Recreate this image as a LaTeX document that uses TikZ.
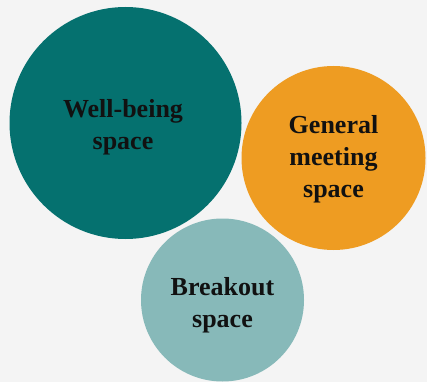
\documentclass[tikz,border=0pt]{standalone}
\usepackage{fontspec}
\setmainfont{Liberation Serif}
\definecolor{pagebg}{HTML}{F4F4F4}
\definecolor{deepteal}{HTML}{05716F}
\definecolor{amber}{HTML}{EE9C22}
\definecolor{paleteal}{HTML}{87B9B9}
\definecolor{inkblack}{HTML}{111111}
\begin{document}
\begin{tikzpicture}[x=1pt,y=-1pt,
  bubble/.style={circle, draw=none, inner sep=0pt},
  caption/.style={inner sep=0pt, align=center, text=inkblack,
    font=\bfseries\fontsize{26}{32}\selectfont}]
  % page background and frame
  \fill[pagebg] (0,0) rectangle (427,382);
  \useasboundingbox (0,0) rectangle (427,382);
  % the three spaces
  \node[bubble, fill=deepteal, minimum size=232pt] (wellbeing) at (125.5,123) {};
  \node[bubble, fill=amber, minimum size=184pt] (general) at (333.5,158) {};
  \node[bubble, fill=paleteal, minimum size=163pt] (breakout) at (222.5,300) {};
  % their names
  \node[caption] (wellbeing-name) at (123,127) {Well-being\\space};
  \node[caption] (general-name) at (333.5,159.5) {General\\meeting\\space};
  \node[caption] (breakout-name) at (222.5,305.5) {Breakout\\space};
\end{tikzpicture}
\end{document}
